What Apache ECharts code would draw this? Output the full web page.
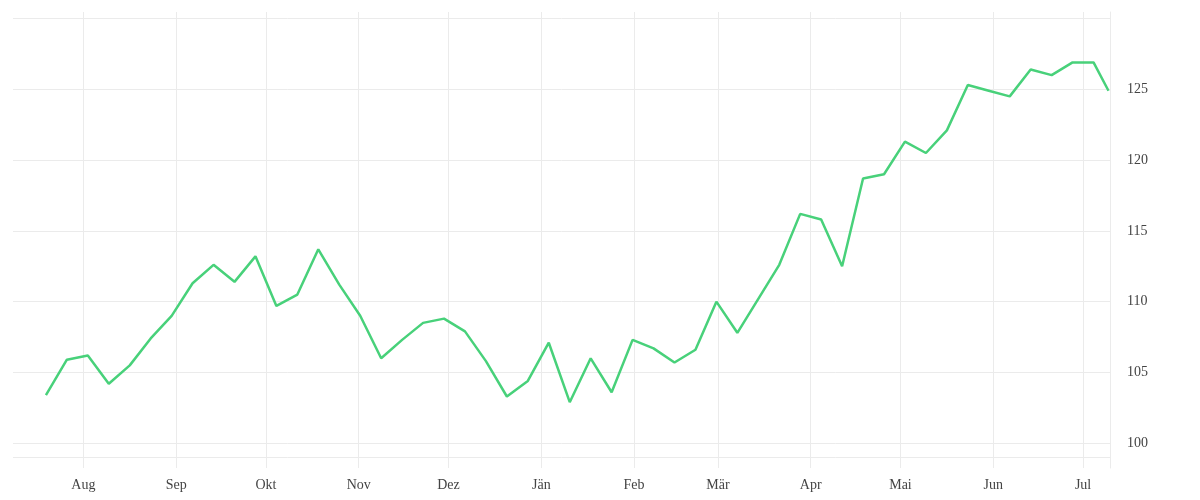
<!DOCTYPE html>
<html>
<head>
<meta charset="utf-8">
<script src="https://cdn.jsdelivr.net/npm/echarts@6/dist/echarts.min.js"></script>
<style>
  html, body { margin: 0; padding: 0; background: #fff; }
  #chart { width: 1200px; height: 500px; }
</style>
</head>
<body>
<div id="chart"></div>
<script>
// weekly values, first point 19 Jul 2022, last point 9 Jul 2023
var firstDate = [2022, 6, 19];
var lastDate = [2023, 6, 9];
var values = [
  103.4, 105.9, 106.2, 104.2, 105.5, 107.4, 109.0, 111.3, 112.6, 111.4,
  113.2, 109.7, 110.5, 113.7, 111.2, 109.0, 106.0, 107.3, 108.5, 108.8,
  107.9, 105.8, 103.3, 104.4, 107.1, 102.9, 106.0, 103.6, 107.3, 106.7,
  105.7, 106.6, 110.0, 107.8, 110.2, 112.6, 116.2, 115.8, 112.5, 118.7,
  119.0, 121.3, 120.5, 122.1, 125.3, 124.9, 124.5, 126.4, 126.0, 126.9,
  126.9, 124.9
];
var monthNames = ['Jän', 'Feb', 'Mär', 'Apr', 'Mai', 'Jun', 'Jul', 'Aug', 'Sep', 'Okt', 'Nov', 'Dez'];
var monthStarts = [
  [2022, 7], [2022, 8], [2022, 9], [2022, 10], [2022, 11], [2023, 0],
  [2023, 1], [2023, 2], [2023, 3], [2023, 4], [2023, 5], [2023, 6]
];
var yGridValues = [99, 100, 105, 110, 115, 120, 125, 130];
var yLabelValues = [100, 105, 110, 115, 120, 125];

function buildData () {
  var out = [];
  var start = new Date(firstDate[0], firstDate[1], firstDate[2], 12);
  for (var i = 0; i < values.length; i++) {
    var d;
    if (i === values.length - 1) {
      d = new Date(lastDate[0], lastDate[1], lastDate[2], 12);
    } else {
      d = new Date(start.getFullYear(), start.getMonth(), start.getDate() + i * 7, 12);
    }
    out.push([d.getTime(), values[i]]);
  }
  return out;
}

function drawChart () {
  var chartDom = document.getElementById('chart');
  var myChart = echarts.init(chartDom);
  var option;

  var monthTicks = monthStarts.map(function (m) {
    return new Date(m[0], m[1], 1).getTime();
  });

  option = {
    animation: false,
    grid: { left: 13, right: 90, top: 12, bottom: 32 },
    xAxis: {
      // plain value axis holding timestamps, so month ticks can be placed exactly
      type: 'value',
      min: new Date(2022, 6, 8, 12).getTime(),
      max: new Date(2023, 6, 10).getTime(),
      axisLine: { show: false },
      axisTick: { show: false, customValues: monthTicks },
      axisLabel: {
        customValues: monthTicks,
        margin: 10,
        color: '#444',
        fontFamily: 'Liberation Serif',
        fontSize: 14,
        formatter: function (v) {
          return monthNames[new Date(v).getMonth()];
        }
      },
      splitLine: { show: true, lineStyle: { color: '#ebebeb', width: 1 } }
    },
    yAxis: {
      type: 'value',
      position: 'right',
      min: 98.25,
      max: 130.46,
      axisLine: { show: true, lineStyle: { color: '#ebebeb', width: 1 } },
      axisTick: { show: false, customValues: yGridValues },
      axisLabel: {
        customValues: yLabelValues,
        margin: 17,
        color: '#444',
        fontFamily: 'Liberation Serif',
        fontSize: 14
      },
      splitLine: { show: true, lineStyle: { color: '#ebebeb', width: 1 } }
    },
    series: [
      {
        type: 'line',
        data: buildData(),
        showSymbol: false,
        lineStyle: { color: '#48d17a', width: 2.5 },
        itemStyle: { color: '#48d17a' }
      }
    ]
  };

  option && myChart.setOption(option);
}

drawChart()
</script>
</body>
</html>
